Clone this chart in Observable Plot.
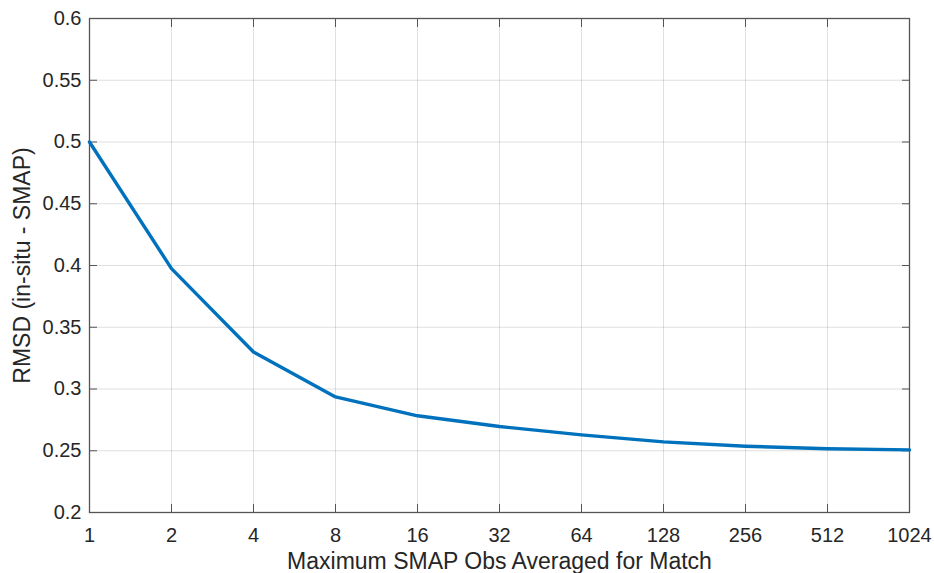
<!DOCTYPE html>
<html>
<head>
<meta charset="utf-8">
<script src="https://cdn.jsdelivr.net/npm/d3@7"></script>
<script src="https://cdn.jsdelivr.net/npm/@observablehq/plot@0.6"></script>
<style>
  html, body { margin: 0; padding: 0; background: #fff; }
  #chart svg { display: block; }
</style>
</head>
<body>
<div id="chart"></div>
<script>
const obsCounts = [1, 2, 4, 8, 16, 32, 64, 128, 256, 512, 1024];
const rmsdValues = [0.500, 0.3975, 0.330, 0.2936, 0.2783, 0.2696, 0.2629, 0.2572, 0.2537, 0.2516, 0.2507];
const xTicks = [1, 2, 4, 8, 16, 32, 64, 128, 256, 512, 1024];
const yTicks = [0.2, 0.25, 0.3, 0.35, 0.4, 0.45, 0.5, 0.55, 0.6];
const xLabel = "Maximum SMAP Obs Averaged for Match";
const yLabel = "RMSD (in-situ - SMAP)";

const data = obsCounts.map((n, i) => ({n, v: rmsdValues[i]}));
const textColor = "#262626";
const axisColor = "#555";

const chart = Plot.plot({
  width: 934,
  height: 573,
  marginLeft: 89,
  marginRight: 25,
  marginTop: 18,
  marginBottom: 61,
  style: {fontFamily: "'Liberation Sans', Arial, sans-serif", color: textColor, background: "#fff"},
  x: {type: "log", base: 2, domain: [1, 1024]},
  y: {domain: [0.2, 0.6]},
  marks: [
    Plot.gridX(xTicks, {stroke: textColor, strokeOpacity: 0.15, strokeWidth: 1}),
    Plot.gridY(yTicks, {stroke: textColor, strokeOpacity: 0.15, strokeWidth: 1}),
    // inward tick marks on all four sides
    Plot.axisX(xTicks, {anchor: "bottom", tickSize: -8, tickFormat: () => "", label: null, stroke: axisColor}),
    Plot.axisX(xTicks, {anchor: "top", tickSize: -8, tickFormat: () => "", label: null, stroke: axisColor}),
    Plot.axisY(yTicks, {anchor: "left", tickSize: -8, tickFormat: () => "", label: null, stroke: axisColor}),
    Plot.axisY(yTicks, {anchor: "right", tickSize: -8, tickFormat: () => "", label: null, stroke: axisColor}),
    // tick labels and axis titles
    Plot.axisX(xTicks, {anchor: "bottom", tickSize: 0, tickPadding: 15, fontSize: 20, fill: textColor,
      tickFormat: d => String(d), label: xLabel, labelAnchor: "center", labelArrow: "none", labelOffset: 56}),
    Plot.axisY(yTicks, {anchor: "left", tickSize: 0, tickPadding: 8, fontSize: 20, fill: textColor,
      tickFormat: d => String(d), label: yLabel, labelAnchor: "center", labelArrow: "none", labelOffset: 76}),
    Plot.frame({stroke: axisColor, strokeWidth: 1.3}),
    Plot.line(data, {x: "n", y: "v", stroke: "#0072BD", strokeWidth: 3.4, strokeLinejoin: "round"})
  ]
});

// make axis titles larger
chart.querySelectorAll("[aria-label='x-axis label'] text, [aria-label='y-axis label'] text").forEach(t => {
  t.setAttribute("font-size", "23");
  t.style.fontSize = "23px";
});
document.getElementById("chart").appendChild(chart);
</script>
</body>
</html>
